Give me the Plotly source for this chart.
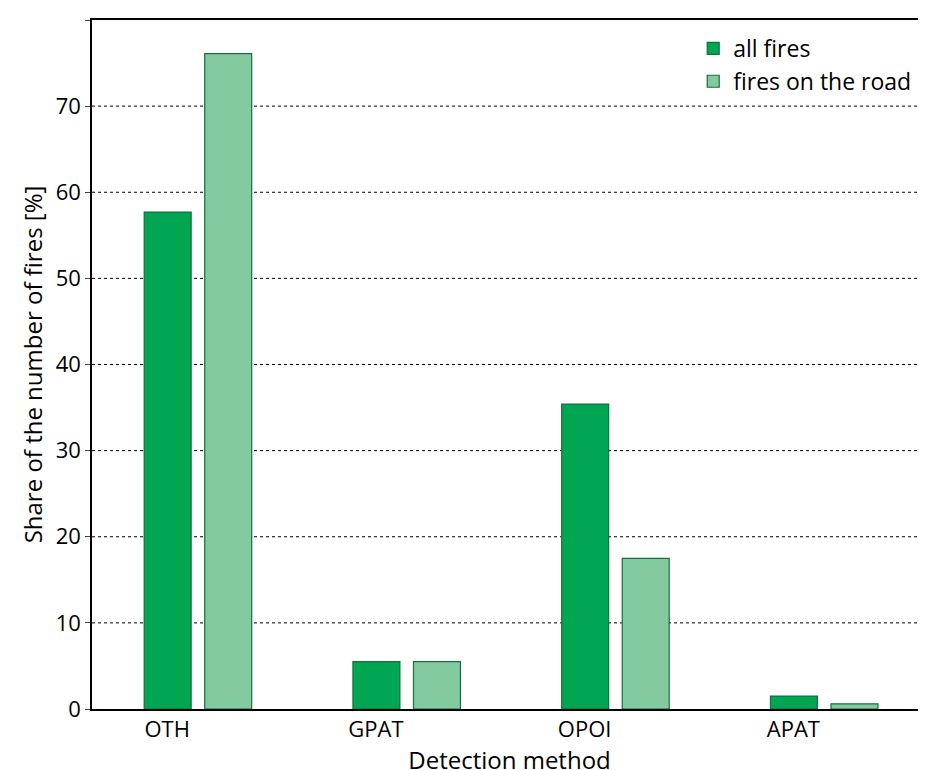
import plotly.graph_objects as go

categories = ["OTH", "GPAT", "OPOI", "APAT"]
all_fires = [57.7, 5.5, 35.4, 1.5]
road_fires = [76.1, 5.5, 17.5, 0.6]
y_ticks = [0, 10, 20, 30, 40, 50, 60, 70, 80]

xs = list(range(len(categories)))

fig = go.Figure()
fig.add_trace(go.Bar(x=xs, y=all_fires, name="all fires", offset=-0.25, width=0.225,
                     marker=dict(color="#00a651", line=dict(color="#15703a", width=1.2))))
fig.add_trace(go.Bar(x=xs, y=road_fires, name="fires on the road", offset=0.04, width=0.225,
                     marker=dict(color="#83caa0", line=dict(color="#15703a", width=1.2))))

for v in y_ticks[1:-1]:
    fig.add_hline(y=v, line=dict(color="black", width=1, dash="dot"), layer="below")

fig.update_layout(
    width=926, height=770,
    margin=dict(l=84, r=5, t=12, b=69),
    plot_bgcolor="white", paper_bgcolor="white",
    font=dict(family="Open Sans, sans-serif", size=22, color="black"),
    showlegend=True,
    legend=dict(x=0.72, y=0.99, xanchor="left", yanchor="top",
                bgcolor="rgba(255,255,255,0)", font=dict(size=23), tracegroupgap=0),
    xaxis=dict(range=[-0.5, 3.5], tickvals=[x - 0.14 for x in xs], ticktext=categories,
               showgrid=False, zeroline=False, showline=True, mirror=True,
               linecolor="black", linewidth=1.5, ticks="",
               title=dict(text="Detection method", standoff=4, font=dict(size=24))),
    yaxis=dict(range=[0, 80.001], tickvals=y_ticks, showgrid=False, zeroline=False,
               showline=True, mirror=True, linecolor="black", linewidth=1.5,
               ticks="outside", ticklen=5,
               title=dict(text="Share of the number of fires [%]", standoff=6, font=dict(size=24))),
)

fig.write_html("out.html")
